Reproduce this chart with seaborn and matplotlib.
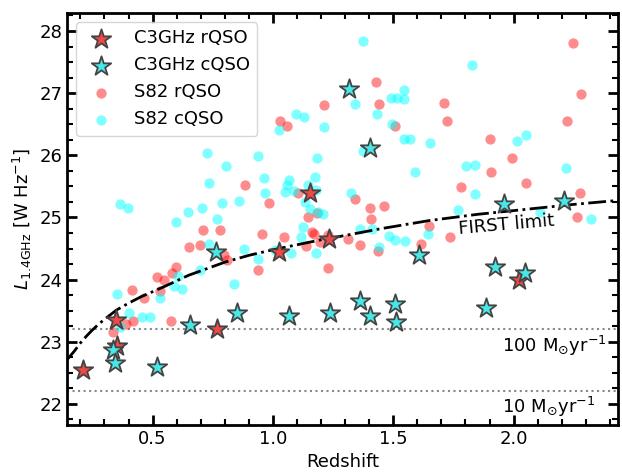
import matplotlib
matplotlib.use('Agg')
from matplotlib import pyplot as plt
from matplotlib.ticker import MultipleLocator
import seaborn as sns

# C3GHz stars
c3_rqso_z = [0.21, 0.347, 0.351, 0.766, 1.025, 1.156, 1.232, 2.021]
c3_rqso_L = [22.55, 23.35, 22.93, 23.21, 24.45, 25.39, 24.65, 23.99]

c3_cqso_z = [0.337, 0.344, 0.517, 0.655, 0.762, 0.849, 1.066, 1.236, 1.315, 1.361,
             1.402, 1.405, 1.509, 1.513, 1.606, 1.887, 1.924, 1.961, 2.049, 2.208]
c3_cqso_L = [22.87, 22.65, 22.59, 23.27, 24.45, 23.46, 23.41, 23.47, 27.07, 23.66,
             26.12, 23.41, 23.60, 23.31, 24.40, 23.55, 24.20, 25.21, 24.11, 25.26]

# S82 circles
s82_rqso_z = [0.709, 0.780, 0.883, 0.983, 0.650, 0.695, 0.798, 0.810, 0.953, 1.047,
              1.138, 0.939, 0.597, 0.579, 0.520, 0.547, 0.529, 0.464, 0.416, 0.388,
              0.420, 0.575, 0.337, 1.103, 1.184, 1.145, 1.163, 1.172, 1.195, 1.230,
              1.229, 1.029, 1.057, 1.214, 1.430, 1.440, 1.709, 1.724, 1.506, 1.783,
              1.343, 1.402, 1.463, 1.408, 1.311, 1.361, 1.437, 1.650, 1.616, 1.737,
              2.247, 2.280, 2.224, 1.903, 1.993, 1.906, 2.051, 2.277, 2.263]
s82_rqso_L = [24.80, 24.80, 25.52, 25.23, 24.52, 24.55, 24.39, 24.31, 24.74, 24.68,
              24.54, 24.16, 24.20, 24.11, 24.04, 23.99, 23.82, 23.70, 23.83, 23.28,
              23.33, 23.33, 23.16, 25.40, 25.07, 25.01, 24.77, 24.74, 24.61, 24.71,
              24.18, 26.56, 26.47, 26.81, 27.18, 26.82, 26.84, 26.56, 26.47, 25.49,
              25.29, 25.15, 25.19, 24.97, 24.66, 24.55, 24.46, 24.86, 24.57, 24.69,
              27.81, 26.98, 26.56, 26.26, 25.95, 25.73, 25.56, 25.40, 25.01]

s82_cqso_z = [0.724, 0.807, 0.734, 0.365, 0.399, 0.647, 0.704, 0.787, 0.769, 0.596,
              0.939, 0.961, 0.965, 1.065, 1.059, 1.052, 0.861, 0.735, 0.879, 1.124,
              1.117, 1.073, 0.937, 0.838, 0.699, 0.605, 0.589, 0.623, 0.531, 0.350,
              0.402, 0.455, 0.489, 0.364, 1.184, 1.087, 1.174, 1.145, 1.180, 1.135,
              1.156, 1.188, 1.209, 1.181, 1.007, 1.025, 1.094, 1.128, 1.211, 1.373,
              1.827, 1.339, 1.492, 1.516, 1.546, 1.543, 1.433, 1.495, 1.546, 1.571,
              1.651, 1.375, 1.592, 1.802, 1.838, 1.841, 1.326, 1.361, 1.412, 1.481,
              1.509, 1.547, 1.440, 1.643, 1.769, 2.014, 2.051, 2.218, 2.111, 2.321]
s82_cqso_L = [26.04, 25.83, 25.55, 25.21, 25.15, 25.09, 25.16, 25.24, 24.98, 24.92,
              25.99, 25.64, 25.40, 25.61, 25.52, 25.41, 25.27, 24.57, 24.50, 24.84,
              24.68, 24.42, 24.33, 23.93, 24.16, 24.06, 23.90, 23.85, 23.71, 23.77,
              23.46, 23.39, 23.39, 23.24, 25.95, 25.43, 25.65, 25.52, 25.44, 25.25,
              25.13, 25.09, 25.05, 24.42, 24.47, 26.41, 26.67, 26.62, 26.46, 27.84,
              27.45, 26.82, 26.93, 26.93, 27.05, 26.91, 26.66, 26.50, 26.27, 26.27,
              26.20, 26.07, 25.73, 25.83, 25.84, 25.38, 25.39, 24.82, 24.82, 24.70,
              24.63, 24.62, 24.53, 24.73, 25.12, 26.23, 26.33, 25.79, 25.09, 24.98]

# FIRST flux limit curve
first_z = [0.14, 0.175, 0.2, 0.225, 0.25, 0.275, 0.3, 0.35, 0.4, 0.45, 0.55, 0.65,
           0.8, 0.9, 1.0, 1.1, 1.2, 1.3, 1.45, 1.65, 1.85, 2.05, 2.25, 2.45]
first_L = [22.69, 22.85, 22.98, 23.09, 23.19, 23.28, 23.36, 23.51, 23.62, 23.72,
           23.89, 24.07, 24.28, 24.39, 24.48, 24.56, 24.64, 24.71, 24.82, 24.95,
           25.05, 25.13, 25.21, 25.28]

# SFR lines
sfr_levels = [23.2, 22.2]
sfr_labels = ['100 M$_{\\odot}$yr$^{-1}$', '10 M$_{\\odot}$yr$^{-1}$']

fig = plt.figure(figsize=(6.22, 4.73), dpi=100)
ax = fig.add_axes([0.108, 0.1015, 0.886, 0.871])

sns.scatterplot(x=s82_rqso_z, y=s82_rqso_L, ax=ax, color='red', alpha=0.45,
                s=55, linewidth=0, marker='o', label='S82 rQSO', zorder=2)
sns.scatterplot(x=s82_cqso_z, y=s82_cqso_L, ax=ax, color='cyan', alpha=0.5,
                s=55, linewidth=0, marker='o', label='S82 cQSO', zorder=2)
sns.scatterplot(x=c3_rqso_z, y=c3_rqso_L, ax=ax, color='#ee4848', edgecolor='#444444',
                s=215, linewidth=1.3, marker='*', label='C3GHz rQSO', zorder=4)
sns.scatterplot(x=c3_cqso_z, y=c3_cqso_L, ax=ax, color='#48e8e8', edgecolor='#444444',
                s=215, linewidth=1.3, marker='*', label='C3GHz cQSO', zorder=4)

ax.plot(first_z, first_L, color='k', linestyle='-.', linewidth=2, zorder=3)
ax.text(1.97, 24.88, 'FIRST limit', fontsize=13, rotation=5, ha='center', va='center')

for lev in sfr_levels:
    ax.axhline(lev, color='#888888', linestyle=':', linewidth=1.5, zorder=1)
ax.text(1.95, 22.93, sfr_labels[0], fontsize=13, ha='left', va='center')
ax.text(1.95, 21.95, sfr_labels[1], fontsize=13, ha='left', va='center')

ax.set_xlim(0.145, 2.435)
ax.set_ylim(21.66, 28.29)
ax.xaxis.set_major_locator(MultipleLocator(0.5))
ax.xaxis.set_minor_locator(MultipleLocator(0.1))
ax.yaxis.set_major_locator(MultipleLocator(1))
ax.yaxis.set_minor_locator(MultipleLocator(0.25))
ax.tick_params(which='both', direction='in', top=True, right=True, labelsize=13)
ax.tick_params(which='major', length=7, width=2)
ax.tick_params(which='minor', length=4, width=1.5)
for sp in ax.spines.values():
    sp.set_linewidth(2)

ax.set_xlabel('Redshift', fontsize=13)
ax.set_ylabel('$L_{1.4\\mathrm{GHz}}$ [W Hz$^{-1}$]', fontsize=13)

handles, labels = ax.get_legend_handles_labels()
order = [labels.index(n) for n in ['C3GHz rQSO', 'C3GHz cQSO', 'S82 rQSO', 'S82 cQSO']]
ax.legend([handles[i] for i in order], [labels[i] for i in order],
          loc='upper left', fontsize=13)

fig.savefig('out.png', dpi=100)
